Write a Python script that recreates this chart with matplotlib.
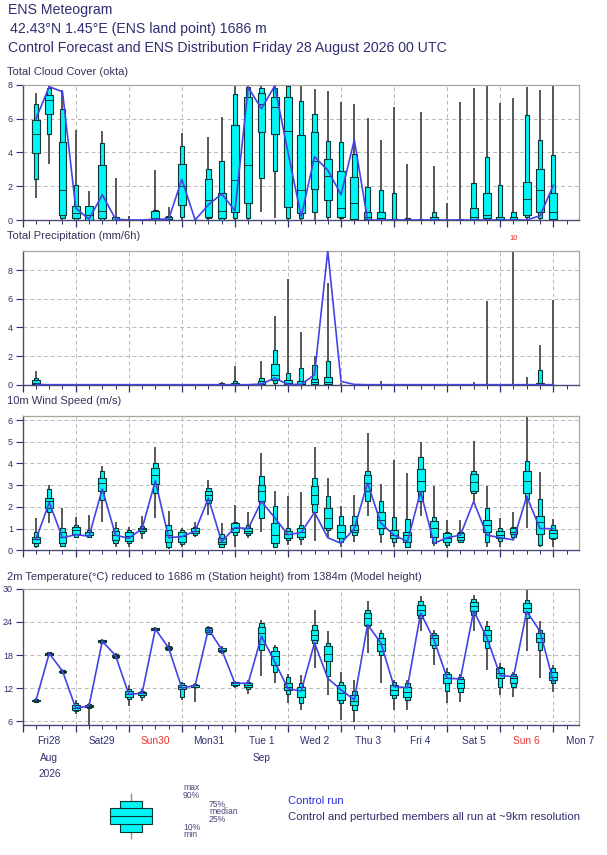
import numpy as np
import matplotlib
matplotlib.use("Agg")
import matplotlib.pyplot as plt
from matplotlib.transforms import blended_transform_factory

plt.rcParams['font.family'] = ['Liberation Sans', 'DejaVu Sans']

# ---------------- data ----------------
lead_hours = list(range(6, 246, 6))  # forecast steps (h) from Fri 28 Aug 2026 00 UTC

cloud_min = [1.3, 3.3, 0, 0, 0, 0, 0, 0, 0, 0, 0, 0, 0, 0, 0, 0, 0, 0.45, 0.1, 0,
             0, 0, 0, 0, 0, 0, 0, 0, 0, 0, 0, 0, 0, 0, 0, 0, 0, 0, 0, 0]
cloud_p10 = [2.4, 5.1, 0.1, 0, 0, 0, 0, 0, 0, 0, 0, 0.2, 0, 0.1, 0, 0.1, 0.1, 2.5, 2.9, 0.1,
             0.1, 0.45, 0.15, 0.1, 0, 0, 0, 0, 0, 0, 0, 0, 0, 0, 0, 0, 0, 0.2, 0.1, 0]
cloud_p25 = [3.95, 6.3, 0.3, 0.1, 0, 0.1, 0, 0, 0, 0, 0, 0.9, 0, 0.2, 0.1, 0.5, 1.0, 5.2, 5.1, 0.75,
             0.4, 1.85, 1.2, 0.2, 0.05, 0.05, 0, 0, 0, 0, 0, 0, 0, 0.05, 0.1, 0, 0, 0.3, 0.5, 0.05]
cloud_med = [5.1, 7.1, 1.8, 0.4, 0.3, 0.55, 0, 0, 0, 0.1, 0.05, 2.0, 0, 1.2, 0.55, 2.35, 3.25, 6.9, 6.7, 5.3,
             1.75, 3.5, 2.6, 0.7, 1.0, 0.2, 0.1, 0, 0, 0, 0.05, 0, 0, 0.2, 0.3, 0.05, 0.05, 1.25, 1.8, 0.5]
cloud_p75 = [5.9, 7.4, 4.65, 0.85, 0.8, 3.25, 0.15, 0, 0, 0.55, 0.15, 3.3, 0, 2.4, 1.6, 5.6, 7.3, 7.5, 7.3, 7.3,
             5.05, 5.2, 3.6, 2.9, 2.55, 0.5, 0.5, 0.05, 0.05, 0, 0.15, 0, 0, 0.7, 1.6, 0.15, 0.2, 2.25, 3.0, 1.6]
cloud_p90 = [6.85, 7.85, 6.6, 2.1, 0.8, 4.55, 0.2, 0, 0, 0.6, 0.25, 4.4, 0, 3.0, 3.5, 7.45, 7.9, 7.85, 7.85, 7.95,
             7.05, 6.3, 4.7, 4.6, 3.9, 1.95, 1.8, 1.6, 0.1, 0.05, 0.5, 0.02, 0.05, 2.2, 3.75, 2.1, 0.5, 6.2, 4.75, 3.85]
cloud_max = [7.55, 8.0, 7.7, 5.35, 1.7, 5.3, 2.5, 0.25, 0, 2.95, 0.75, 5.15, 0.1, 4.9, 6.1, 8.0, 8.0, 8.0, 8.0, 8.0,
             8.0, 7.75, 7.65, 7.0, 6.85, 6.05, 4.75, 6.7, 3.3, 6.4, 3.2, 1.0, 7.0, 7.8, 8.0, 6.95, 7.25, 7.9, 7.7, 8.0]
cloud_ctrl = [6.0, 7.9, 7.6, 0.7, 0.05, 1.5, 0.05, 0, 0, 0.05, 0.05, 2.4, 0, 0.9, 1.55, 0.55, 7.85, 6.6, 7.95, 4.0,
              0.2, 3.75, 2.95, 1.5, 4.75, 0, 0, 0, 0, 0, 0, 0, 0, 0, 0, 0, 0, 0, 0.25, 2.05]

prec_min = [0] * 40
prec_p10 = [0, 0, 0, 0, 0, 0, 0, 0, 0, 0, 0, 0, 0, 0, 0, 0, 0, 0, 0.1, 0,
            0, 0, 0, 0, 0, 0, 0, 0, 0, 0, 0, 0, 0, 0, 0, 0, 0, 0, 0, 0]
prec_p25 = [0.02, 0, 0, 0, 0, 0, 0, 0, 0, 0, 0, 0, 0, 0, 0, 0, 0, 0, 0.35, 0.05,
            0, 0.05, 0.05, 0, 0, 0, 0, 0, 0, 0, 0, 0, 0, 0, 0, 0, 0, 0, 0, 0]
prec_med = [0.1, 0, 0, 0, 0, 0, 0, 0, 0, 0, 0, 0, 0, 0, 0, 0.05, 0, 0.05, 0.7, 0.15,
            0.05, 0.2, 0.2, 0, 0, 0, 0, 0, 0, 0, 0, 0, 0, 0, 0, 0, 0, 0, 0.05, 0]
prec_p75 = [0.35, 0, 0, 0, 0, 0, 0, 0, 0, 0, 0, 0, 0, 0, 0.05, 0.15, 0, 0.23, 1.44, 0.35,
            0.23, 0.4, 0.51, 0, 0, 0, 0, 0, 0, 0, 0, 0, 0, 0, 0, 0, 0, 0, 0.12, 0]
prec_p90 = [0.46, 0, 0, 0, 0, 0, 0, 0, 0, 0, 0, 0, 0, 0, 0.1, 0.23, 0, 0.46, 2.44, 0.81,
            1.16, 1.39, 1.67, 0, 0, 0, 0, 0, 0, 0, 0, 0, 0, 0, 0.03, 0, 0, 0, 1.0, 0]
prec_max = [0.97, 0, 0, 0, 0, 0, 0, 0, 0, 0, 0, 0, 0, 0.05, 0.16, 1.32, 0, 1.62, 4.76, 7.38,
            3.67, 2.02, 7.08, 0.1, 0, 0, 0.28, 0, 0, 0, 0, 0, 0, 0.19, 5.85, 0, 10.0, 0.51, 2.74, 5.92]
prec_ctrl = [0.02, 0, 0, 0, 0, 0, 0, 0, 0, 0, 0, 0, 0, 0, 0, 0, 0, 0.05, 0.46, 0.02,
             0.02, 0.7, 9.35, 0.23, 0.02, 0, 0, 0, 0, 0, 0, 0, 0, 0, 0, 0, 0, 0, 0, 0]

wind_min = [0.09, 1.28, 0.17, 0.55, 0.58, 1.32, 0.17, 0.17, 0.52, 1.51, 0.06, 0.17, 0.63, 1.63, 0.09, 0.17, 0.55, 0.86, 0.12, 0.25,
            0.25, 0.43, 0.55, 0.17, 0.4, 1.6, 0.32, 0.17, 0.12, 1.6, 0.22, 0.12, 0.32, 2.25, 0.17, 0.17, 0.52, 1.05, 0.17, 0.17]
wind_p10 = [0.2, 1.78, 0.22, 0.63, 0.63, 2.32, 0.32, 0.32, 0.78, 2.63, 0.17, 0.28, 0.71, 2.17, 0.17, 0.71, 0.71, 1.48, 0.17, 0.48,
            0.52, 1.78, 0.94, 0.4, 0.71, 2.25, 0.74, 0.4, 0.17, 2.25, 0.32, 0.25, 0.4, 2.63, 0.4, 0.43, 0.63, 2.37, 0.25, 0.52]
wind_p25 = [0.32, 1.94, 0.32, 0.74, 0.71, 2.71, 0.48, 0.43, 0.89, 3.05, 0.4, 0.4, 0.78, 2.32, 0.28, 0.86, 0.78, 2.28, 0.32, 0.58,
            0.63, 2.12, 1.05, 0.58, 0.83, 2.71, 1.05, 0.55, 0.4, 2.71, 0.63, 0.4, 0.48, 2.74, 0.86, 0.55, 0.74, 2.63, 0.74, 0.58]
wind_med = [0.51, 2.28, 0.63, 0.94, 0.83, 3.09, 0.71, 0.68, 0.98, 3.48, 0.71, 0.68, 0.89, 2.55, 0.4, 1.05, 0.89, 2.71, 0.71, 0.74,
            0.86, 2.55, 1.48, 0.86, 0.94, 3.09, 1.4, 0.71, 0.71, 3.17, 1.02, 0.58, 0.63, 3.14, 1.17, 0.71, 0.86, 3.17, 1.32, 0.78]
wind_p75 = [0.63, 2.43, 0.86, 1.09, 0.86, 3.35, 0.89, 0.83, 1.05, 3.78, 0.94, 0.86, 1.02, 2.71, 0.58, 1.25, 1.02, 3.02, 1.25, 0.89,
            1.02, 2.98, 1.94, 1.17, 1.17, 3.48, 1.78, 0.94, 0.86, 3.75, 1.35, 0.78, 0.78, 3.51, 1.4, 0.89, 1.02, 3.63, 1.6, 0.94]
wind_p90 = [0.86, 2.82, 1.02, 1.17, 0.94, 3.66, 1.05, 0.94, 1.14, 4.02, 1.17, 0.94, 1.09, 2.86, 0.74, 1.32, 1.17, 3.43, 2.06, 1.02,
            1.17, 3.32, 2.48, 1.6, 1.6, 3.66, 2.25, 1.55, 1.45, 4.28, 1.55, 0.86, 0.86, 3.66, 1.94, 1.02, 1.09, 4.12, 2.37, 1.17]
wind_max = [1.51, 3.02, 1.94, 1.55, 1.63, 3.89, 1.32, 1.09, 1.6, 4.74, 1.82, 1.02, 1.32, 3.25, 1.25, 2.09, 1.75, 4.48, 2.74, 2.48,
            2.68, 4.78, 3.35, 2.02, 2.55, 5.4, 3.05, 4.17, 3.58, 4.98, 2.98, 1.4, 1.4, 5.05, 2.98, 1.48, 1.75, 6.2, 3.6, 1.45]
wind_ctrl = [0.5, 2.2, 0.58, 0.72, 0.65, 2.82, 0.7, 0.55, 1.0, 3.2, 0.58, 0.63, 0.88, 2.4, 0.4, 1.05, 1.0, 2.25, 1.5, 0.72,
             0.82, 1.75, 0.58, 0.32, 1.0, 3.1, 1.25, 0.7, 0.4, 2.7, 0.32, 0.58, 0.7, 2.25, 0.7, 0.58, 0.48, 2.48, 1.0, 1.0]

temp_min = [9.5, 17.9, 14.6, 7.3, 5.4, 20.1, 17.4, 8.7, 9.7, 22.3, 18.8, 9.9, 9.5, 21.6, 18.2, 12.1, 10.9, 14.3, 12.9, 9.3,
            8.1, 15.6, 10.8, 6.3, 5.9, 18.4, 12.9, 8.1, 8.1, 22.3, 16.2, 9.3, 9.5, 22.3, 15.3, 10.7, 10.5, 18.8, 13.8, 11.3]
temp_p10 = [9.6, 18.0, 14.7, 7.8, 8.4, 20.25, 17.55, 10.1, 10.5, 22.45, 18.9, 10.5, 12.15, 21.8, 18.5, 12.45, 11.9, 19.0, 15.0, 10.9,
            9.3, 20.2, 14.3, 9.3, 8.1, 23.2, 18.1, 10.2, 9.9, 24.7, 19.3, 11.5, 11.4, 25.3, 19.3, 12.3, 12.3, 24.7, 19.0, 12.9]
temp_p25 = [9.7, 18.1, 14.85, 8.0, 8.55, 20.35, 17.7, 10.5, 10.8, 22.55, 19.05, 11.9, 12.3, 22.2, 18.7, 12.65, 12.3, 20.0, 16.2, 11.7,
            10.5, 20.8, 16.9, 9.9, 9.0, 23.5, 18.7, 10.8, 10.5, 25.3, 19.9, 12.9, 12.0, 25.9, 20.5, 13.8, 12.9, 25.8, 20.3, 13.4]
temp_med = [9.8, 18.25, 15.0, 8.5, 8.8, 20.5, 17.9, 10.9, 11.1, 22.7, 19.3, 12.3, 12.5, 22.6, 19.0, 12.9, 12.6, 22.0, 17.8, 12.3,
            11.7, 21.7, 18.2, 11.1, 9.7, 24.7, 20.0, 11.7, 11.4, 26.2, 21.1, 13.8, 12.9, 26.8, 21.7, 14.7, 13.8, 26.5, 21.1, 14.1]
temp_p75 = [9.95, 18.4, 15.2, 9.0, 9.05, 20.65, 18.05, 11.5, 11.4, 22.85, 19.5, 12.6, 12.65, 22.9, 19.2, 13.05, 12.9, 23.0, 18.7, 12.9,
            12.3, 22.6, 19.7, 12.6, 10.8, 25.6, 21.1, 12.6, 12.3, 27.1, 21.7, 14.6, 13.7, 27.6, 22.6, 15.6, 14.3, 27.4, 22.0, 14.9]
temp_p90 = [10.05, 18.5, 15.35, 9.3, 9.2, 20.75, 18.2, 11.9, 11.5, 22.95, 19.7, 12.9, 12.8, 23.0, 19.35, 13.2, 13.1, 23.8, 19.4, 14.0,
            12.9, 23.5, 20.2, 13.2, 11.5, 26.2, 22.0, 13.2, 12.9, 27.7, 22.0, 15.0, 14.0, 28.2, 23.2, 15.9, 14.6, 28.0, 22.6, 15.6]
temp_max = [10.15, 18.6, 15.5, 9.9, 9.3, 20.9, 18.4, 12.6, 11.9, 23.1, 20.4, 13.2, 12.9, 23.2, 19.6, 13.3, 13.4, 24.4, 19.9, 14.6,
            14.4, 26.2, 22.4, 14.9, 13.5, 27.8, 22.6, 13.5, 13.5, 28.6, 22.6, 15.6, 14.6, 28.9, 24.1, 16.5, 15.0, 29.8, 24.1, 16.2]
temp_ctrl = [9.8, 18.3, 15.1, 8.4, 8.8, 20.5, 17.9, 10.9, 11.1, 22.7, 19.3, 12.0, 12.5, 22.7, 19.0, 12.9, 12.9, 21.4, 16.8, 11.9,
             11.5, 20.2, 13.8, 11.7, 9.9, 23.5, 20.2, 12.3, 12.1, 25.6, 20.8, 13.8, 13.7, 26.0, 21.1, 14.3, 14.1, 25.9, 22.3, 13.2]

day_labels = ["Fri28", "Sat29", "Sun30", "Mon31", "Tue 1", "Wed 2", "Thu 3", "Fri 4", "Sat 5", "Sun 6", "Mon 7"]
sub_labels = {0: ["Aug", "2026"], 4: ["Sep"]}
legend_levels = [3, 10, 18, 26, 34, 41, 49]   # min,10%,25%,median,75%,90%,max (glyph only)

# ---------------- styling ----------------
NAVY = '#2e2e70'
BOX_FC = '#00f5f5'
BOX_EC = '#0a3535'
WHISK = '#3c3c3c'
CTRL = '#4343e6'
GRID = '#b8b8b8'

W, H = 607, 855
fig = plt.figure(figsize=(W / 100, H / 100), dpi=100)


def px_axes(left, top, right, bottom):
    return fig.add_axes([left / W, 1 - bottom / H, (right - left) / W, (bottom - top) / H])


def style_axes(ax, ylim, yticks):
    ax.set_xlim(0, 251.5)
    ax.set_ylim(*ylim)
    ax.set_yticks(yticks)
    ax.set_xticks(range(0, 264, 24))
    ax.set_xticks(range(0, 252, 6), minor=True)
    ax.set_xticklabels([])
    ax.tick_params(axis='y', direction='out', length=5, width=0.8, colors=NAVY,
                   labelsize=6.5, pad=2, labelcolor=NAVY)
    ax.tick_params(axis='x', which='major', direction='out', length=5, width=0.9, colors=NAVY)
    ax.tick_params(axis='x', which='minor', direction='out', length=3, width=0.7, colors=NAVY)
    for s in ['top', 'right']:
        ax.spines[s].set_color('#aaa69a')
        ax.spines[s].set_linewidth(0.9)
    for s in ['left', 'bottom']:
        ax.spines[s].set_color('#4a4a78')
        ax.spines[s].set_linewidth(1.0)
    for yv in yticks:
        if yv > ylim[0] and yv != 0:
            ax.axhline(yv, color=GRID, lw=0.7, ls=(0, (4, 3)), zorder=0)
    for xv in range(24, 252, 24):
        ax.axvline(xv, color=GRID, lw=0.7, ls=(0, (4, 3)), zorder=0)


def draw_boxes(ax, mn, p10, p25, med, p75, p90, mx, ctrl):
    x = np.array(lead_hours, dtype=float)
    mn, p10, p25, med, p75, p90, mx = map(np.asarray, (mn, p10, p25, med, p75, p90, mx))
    ax.vlines(x, mn, mx, color=WHISK, lw=1.2, zorder=2)
    ax.bar(x, p90 - p10, bottom=p10, width=2.0, color=BOX_FC, edgecolor=BOX_EC, lw=0.8, zorder=3)
    ax.bar(x, p75 - p25, bottom=p25, width=3.5, color=BOX_FC, edgecolor=BOX_EC, lw=0.8, zorder=3)
    ax.hlines(med, x - 1.75, x + 1.75, color=BOX_EC, lw=0.7, zorder=4)
    ax.plot(x, ctrl, color=CTRL, lw=1.2, zorder=5)


ax_c = px_axes(22.7, 85, 578.7, 220)
style_axes(ax_c, (0, 8), [0, 2, 4, 6, 8])
draw_boxes(ax_c, cloud_min, cloud_p10, cloud_p25, cloud_med, cloud_p75, cloud_p90, cloud_max, cloud_ctrl)

ax_p = px_axes(22.7, 250.7, 578.7, 384.7)
style_axes(ax_p, (0, 9.35), [0, 2, 4, 6, 8])
draw_boxes(ax_p, prec_min, prec_p10, prec_p25, prec_med, prec_p75, prec_p90, prec_max, prec_ctrl)
for h, v in zip(lead_hours, prec_max):
    if v > 9.35:
        ax_p.annotate(f"{v:.0f}", xy=(h, 1.0), xycoords=('data', 'axes fraction'),
                      xytext=(0, 6), textcoords='offset points', ha='center', va='bottom',
                      color='#ee2a2a', fontsize=5.5)

ax_w = px_axes(22.7, 415.7, 578.7, 550.3)
style_axes(ax_w, (0, 6.2), [0, 1, 2, 3, 4, 5, 6])
draw_boxes(ax_w, wind_min, wind_p10, wind_p25, wind_med, wind_p75, wind_p90, wind_max, wind_ctrl)

ax_t = px_axes(22.7, 588.7, 578.7, 725)
style_axes(ax_t, (5.35, 30), [6, 12, 18, 24, 30])
draw_boxes(ax_t, temp_min, temp_p10, temp_p25, temp_med, temp_p75, temp_p90, temp_max, temp_ctrl)

# panel titles
titles = [(72, "Total Cloud Cover (okta)"), (236, "Total Precipitation (mm/6h)"),
          (401, "10m Wind Speed (m/s)"),
          (577, "2m Temperature(\u00b0C) reduced to 1686 m (Station height) from 1384m (Model height)")]
for y, t in titles:
    fig.text(7 / W, 1 - y / H, t, fontsize=8.0, color='#33335a', va='center', ha='left')

# header
fig.text(8 / W, 1 - 10 / H, "ENS Meteogram", fontsize=10.2, color=NAVY, va='center')
fig.text(10 / W, 1 - 29 / H, "42.43\u00b0N 1.45\u00b0E (ENS land point) 1686 m", fontsize=10.2, color=NAVY, va='center')
fig.text(8 / W, 1 - 48 / H, "Control Forecast and ENS Distribution Friday 28 August 2026 00 UTC",
         fontsize=10.2, color=NAVY, va='center')

# date labels
tr = blended_transform_factory(ax_t.transData, fig.transFigure)
for i, lab in enumerate(day_labels):
    col = '#e8322e' if lab.startswith("Sun") else '#303070'
    ax_t.text(12 + 24 * i, 1 - 741 / H, lab, transform=tr, ha='center', va='center',
              fontsize=7.3, color=col, clip_on=False)
    for j, s in enumerate(sub_labels.get(i, [])):
        ax_t.text(12 + 24 * i, 1 - (757.7 + 16 * j) / H, s, transform=tr, ha='center', va='center',
                  fontsize=7.3, color='#303070', clip_on=False)

# legend glyph
ax_l = px_axes(100, 790, 162, 842)
ax_l.set_xlim(0, 62)
ax_l.set_ylim(0, 52)
ax_l.axis('off')
lmn, l10, l25, lmed, l75, l90, lmx = legend_levels
ax_l.vlines([31], lmn, lmx, color='#909090', lw=1.0, zorder=1)
ax_l.bar([31], [l90 - l10], bottom=[l10], width=21, color=BOX_FC, edgecolor=BOX_EC, lw=0.8, zorder=2)
ax_l.bar([31], [l75 - l25], bottom=[l25], width=42, color=BOX_FC, edgecolor=BOX_EC, lw=0.8, zorder=2)
ax_l.hlines([lmed], 10, 52, color=BOX_EC, lw=0.8, zorder=3)

leg_txt = [(183, 787.7, "max"), (183, 795.5, "90%"), (209, 804, "75%"), (209, 811.5, "median"),
           (209, 819, "25%"), (183, 827, "10%"), (183, 834.5, "min")]
for x, y, t in leg_txt:
    fig.text(x / W, 1 - y / H, t, fontsize=6.2, color='#4a4a7a', va='center', ha='left')

fig.text(288 / W, 1 - 801 / H, "Control run", fontsize=8.0, color='#2a2ad8', va='center')
fig.text(288 / W, 1 - 817 / H, "Control and perturbed members all run at ~9km resolution",
         fontsize=8.2, color='#2e2e70', va='center')

fig.savefig("out.png", dpi=100)
